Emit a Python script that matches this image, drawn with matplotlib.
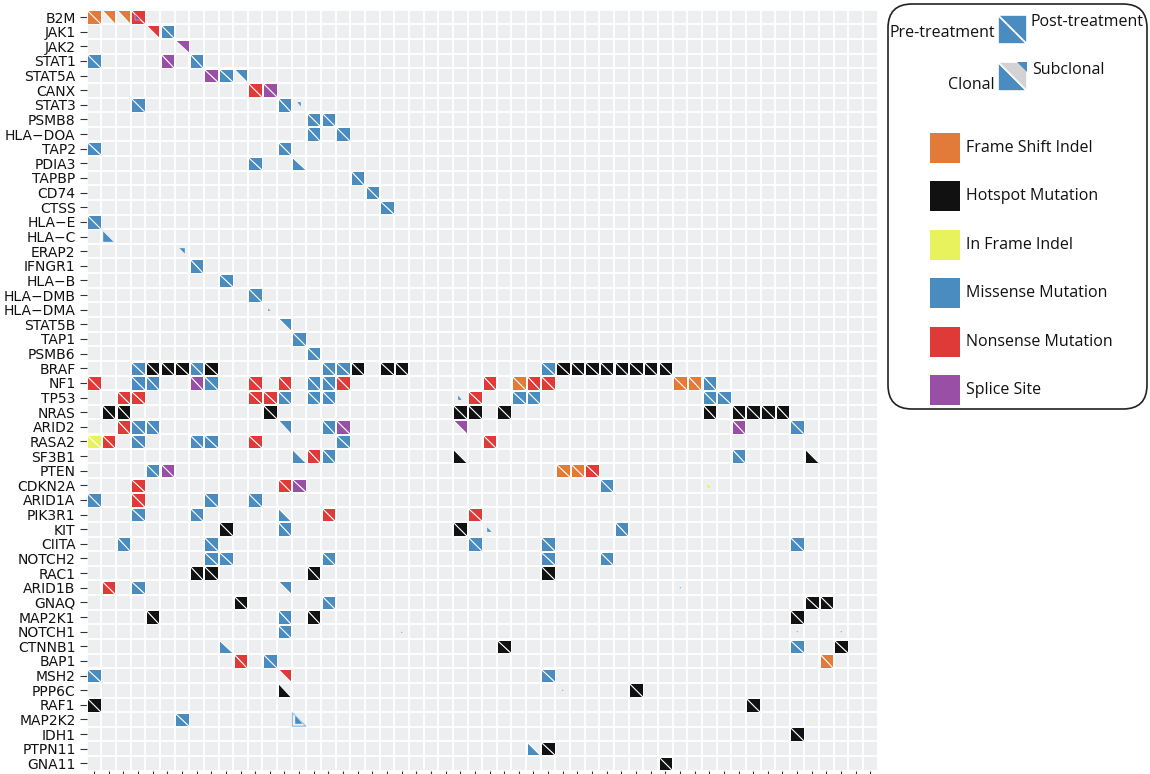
import numpy as np
import matplotlib.pyplot as plt
from matplotlib.patches import Polygon, Rectangle, FancyBboxPatch

genes = ["B2M", "JAK1", "JAK2", "STAT1", "STAT5A", "CANX", "STAT3", "PSMB8",
         "HLA\u2212DOA", "TAP2", "PDIA3", "TAPBP", "CD74", "CTSS", "HLA\u2212E",
         "HLA\u2212C", "ERAP2", "IFNGR1", "HLA\u2212B", "HLA\u2212DMB", "HLA\u2212DMA",
         "STAT5B", "TAP1", "PSMB6", "BRAF", "NF1", "TP53", "NRAS", "ARID2", "RASA2",
         "SF3B1", "PTEN", "CDKN2A", "ARID1A", "PIK3R1", "KIT", "CIITA", "NOTCH2",
         "RAC1", "ARID1B", "GNAQ", "MAP2K1", "NOTCH1", "CTNNB1", "BAP1", "MSH2",
         "PPP6C", "RAF1", "MAP2K2", "IDH1", "PTPN11", "GNA11"]
n_samples = 54

# (gene, sample, pre-treatment fraction, post-treatment fraction); 1 = clonal, <1 = subclonal, 0 = absent
frame_shift = [("B2M", 0, 1, 1), ("B2M", 1, 0, 1), ("B2M", 2, 0, 1), ("NF1", 29, 1, 1),
               ("NF1", 40, 1, 1), ("NF1", 41, 1, 1), ("PTEN", 32, 1, 1), ("PTEN", 33, 1, 1),
               ("BAP1", 50, 1, 1)]

hotspot = [("BRAF", 4, 1, 1), ("BRAF", 5, 1, 1), ("BRAF", 6, 1, 1), ("BRAF", 8, 1, 1),
           ("BRAF", 18, 1, 1), ("BRAF", 20, 1, 1), ("BRAF", 21, 1, 1), ("BRAF", 32, 1, 1),
           ("BRAF", 33, 1, 1), ("BRAF", 34, 1, 1), ("BRAF", 35, 1, 1), ("BRAF", 36, 1, 1),
           ("BRAF", 37, 1, 1), ("BRAF", 38, 1, 1), ("BRAF", 39, 1, 1),
           ("NRAS", 1, 1, 1), ("NRAS", 2, 1, 1), ("NRAS", 12, 1, 1), ("NRAS", 25, 1, 1),
           ("NRAS", 26, 1, 1), ("NRAS", 28, 1, 1), ("NRAS", 42, 1, 1), ("NRAS", 44, 1, 1),
           ("NRAS", 45, 1, 1), ("NRAS", 46, 1, 1), ("NRAS", 47, 1, 1),
           ("SF3B1", 25, 1, 0), ("SF3B1", 49, 1, 0), ("KIT", 9, 1, 1), ("KIT", 25, 1, 1),
           ("RAC1", 7, 1, 1), ("RAC1", 8, 1, 1), ("RAC1", 15, 1, 1), ("RAC1", 31, 1, 1),
           ("GNAQ", 10, 1, 1), ("GNAQ", 49, 1, 1), ("GNAQ", 50, 1, 1),
           ("MAP2K1", 4, 1, 1), ("MAP2K1", 15, 1, 1), ("MAP2K1", 48, 1, 1),
           ("CTNNB1", 28, 1, 1), ("CTNNB1", 51, 1, 1), ("PPP6C", 13, 1, 0), ("PPP6C", 37, 1, 1),
           ("RAF1", 0, 1, 1), ("RAF1", 45, 1, 1), ("IDH1", 48, 1, 1), ("PTPN11", 31, 1, 1),
           ("GNA11", 39, 1, 1)]

in_frame = [("RASA2", 0, 1, 1), ("CDKN2A", 42, 0.4, 0), ("MAP2K2", 49, 0.2, 0)]

missense = [("JAK1", 5, 1, 1), ("STAT1", 0, 1, 1), ("STAT1", 7, 1, 1), ("STAT5A", 9, 1, 1),
            ("STAT5A", 10, 0, 1), ("STAT3", 3, 1, 1), ("STAT3", 13, 1, 1), ("STAT3", 14, 0, 0.35),
            ("PSMB8", 15, 1, 1), ("PSMB8", 16, 1, 1), ("HLA\u2212DOA", 15, 1, 1),
            ("HLA\u2212DOA", 17, 1, 1), ("TAP2", 0, 1, 1), ("TAP2", 13, 1, 1),
            ("PDIA3", 11, 1, 1), ("PDIA3", 14, 1, 0), ("TAPBP", 18, 1, 1), ("CD74", 19, 1, 1),
            ("CTSS", 20, 1, 1), ("HLA\u2212E", 0, 1, 1), ("HLA\u2212C", 1, 0.8, 0),
            ("ERAP2", 6, 0, 0.45), ("IFNGR1", 7, 1, 1), ("HLA\u2212B", 9, 1, 1),
            ("HLA\u2212DMB", 11, 1, 1), ("HLA\u2212DMA", 12, 0.25, 0), ("STAT5B", 13, 0, 1),
            ("TAP1", 14, 1, 1), ("PSMB6", 15, 1, 1),
            ("BRAF", 3, 1, 1), ("BRAF", 7, 1, 1), ("BRAF", 16, 1, 1), ("BRAF", 17, 1, 1),
            ("BRAF", 31, 1, 1), ("NF1", 3, 1, 1), ("NF1", 4, 1, 1), ("NF1", 8, 1, 1),
            ("NF1", 15, 1, 1), ("NF1", 16, 1, 1), ("NF1", 42, 1, 1),
            ("TP53", 13, 1, 1), ("TP53", 15, 1, 1), ("TP53", 16, 1, 1), ("TP53", 25, 0.3, 0),
            ("TP53", 29, 1, 1), ("TP53", 30, 1, 1), ("TP53", 42, 1, 1), ("TP53", 43, 1, 1),
            ("ARID2", 3, 1, 1), ("ARID2", 4, 1, 1), ("ARID2", 13, 0, 1), ("ARID2", 16, 1, 1),
            ("ARID2", 48, 1, 1), ("RASA2", 3, 1, 1), ("RASA2", 7, 1, 1), ("RASA2", 8, 1, 1),
            ("RASA2", 17, 1, 1), ("SF3B1", 14, 1, 0), ("SF3B1", 16, 1, 1), ("SF3B1", 44, 1, 1),
            ("PTEN", 4, 1, 1), ("CDKN2A", 35, 1, 1), ("ARID1A", 0, 1, 1), ("ARID1A", 8, 1, 1),
            ("ARID1A", 11, 1, 1), ("PIK3R1", 3, 1, 1), ("PIK3R1", 7, 1, 1), ("PIK3R1", 13, 1, 0),
            ("KIT", 13, 1, 1), ("KIT", 27, 0.4, 0), ("KIT", 36, 1, 1),
            ("CIITA", 2, 1, 1), ("CIITA", 8, 1, 1), ("CIITA", 26, 1, 1), ("CIITA", 31, 1, 1),
            ("CIITA", 48, 1, 1), ("NOTCH2", 8, 1, 1), ("NOTCH2", 9, 1, 1), ("NOTCH2", 16, 1, 1),
            ("NOTCH2", 31, 1, 1), ("NOTCH2", 35, 1, 1), ("ARID1B", 3, 1, 1), ("ARID1B", 13, 0, 1),
            ("ARID1B", 40, 0, 0.15), ("GNAQ", 16, 1, 1), ("MAP2K1", 13, 1, 1),
            ("NOTCH1", 13, 1, 1), ("NOTCH1", 21, 0.15, 0), ("NOTCH1", 48, 0, 0.15),
            ("NOTCH1", 51, 0, 0.15), ("CTNNB1", 9, 1, 0), ("CTNNB1", 48, 1, 1),
            ("BAP1", 12, 1, 1), ("MSH2", 0, 1, 1), ("MSH2", 31, 1, 1), ("PPP6C", 32, 0.15, 0),
            ("MAP2K2", 6, 1, 1), ("MAP2K2", 14, 0.6, 0), ("PTPN11", 30, 1, 0)]

nonsense = [("B2M", 3, 1, 1), ("JAK1", 4, 0, 1), ("CANX", 11, 1, 1),
            ("NF1", 0, 1, 1), ("NF1", 11, 1, 1), ("NF1", 13, 1, 1), ("NF1", 17, 1, 1),
            ("NF1", 27, 1, 1), ("NF1", 30, 1, 1), ("NF1", 31, 1, 1),
            ("TP53", 2, 1, 1), ("TP53", 3, 1, 1), ("TP53", 11, 1, 1), ("TP53", 12, 1, 1),
            ("TP53", 26, 1, 1), ("ARID2", 2, 1, 1), ("RASA2", 1, 1, 1), ("RASA2", 11, 1, 1),
            ("RASA2", 27, 1, 1), ("SF3B1", 15, 1, 1), ("PTEN", 34, 1, 1), ("CDKN2A", 3, 1, 1),
            ("CDKN2A", 13, 1, 1), ("ARID1A", 3, 1, 1), ("PIK3R1", 16, 1, 1),
            ("PIK3R1", 26, 1, 1), ("ARID1B", 1, 1, 1), ("BAP1", 10, 1, 1), ("MSH2", 13, 0, 1)]

splice = [("B2M", 3, 0.45, 0), ("JAK2", 6, 0, 1), ("STAT1", 5, 1, 1), ("STAT5A", 8, 1, 1),
          ("CANX", 12, 1, 1), ("NF1", 7, 1, 1), ("ARID2", 17, 1, 1), ("ARID2", 25, 0, 1),
          ("ARID2", 44, 1, 1), ("PTEN", 5, 1, 1), ("CDKN2A", 14, 1, 1)]

mut_classes = ["Frame Shift Indel", "Hotspot Mutation", "In Frame Indel",
               "Missense Mutation", "Nonsense Mutation", "Splice Site"]
class_colors = ["#E27B3A", "#111111", "#E8F25C", "#4A8CC0", "#E03A38", "#994FA6"]
class_data = [frame_shift, hotspot, in_frame, missense, nonsense, splice]

row_of = {g: i for i, g in enumerate(genes)}
H = 0.46


def triangle(x, y, half, size):
    # y axis is inverted, so y - s is the top edge of the cell
    s = H * size
    if half == "pre":
        pts = [(x - s, y - s), (x - s, y + s), (x + s, y + s)]
    else:
        pts = [(x - s, y - s), (x + s, y - s), (x + s, y + s)]
    return pts


fig = plt.figure(figsize=(11.5, 7.74), dpi=100)
ax = fig.add_axes([86.7 / 1150, 1 - 770.7 / 774, 791 / 1150, 761 / 774])
ax.set_facecolor("#EDEEF0")
ax.set_xlim(-0.5, n_samples - 0.5)
ax.set_ylim(len(genes) - 0.5, -0.5)
for i in range(n_samples + 1):
    ax.axvline(i - 0.5, color="white", lw=1.3, zorder=1)
for j in range(len(genes) + 1):
    ax.axhline(j - 0.5, color="white", lw=1.3, zorder=1)

for data, col in zip(class_data, class_colors):
    for gene, sample, pre, post in data:
        y = row_of[gene]
        for half, frac in (("pre", pre), ("post", post)):
            if frac <= 0:
                continue
            lw = 0.7 if frac >= 1 else 0.25
            ax.add_patch(Polygon(triangle(sample, y, half, frac), closed=True,
                                 fc=col, ec="white", lw=lw, zorder=3))

# faint outline of the clonal footprint behind a partly subclonal call
ax.add_patch(Polygon(triangle(14, row_of["MAP2K2"], "pre", 1.0), closed=True,
                     fc="none", ec="#9DC0DE", lw=0.9, zorder=2.5))

for s in ax.spines.values():
    s.set_visible(False)
ax.set_xticks(range(n_samples))
ax.set_xticklabels([])
ax.set_yticks(range(len(genes)))
ax.set_yticklabels(genes, fontsize=10, family="DejaVu Sans", color="#111111")
ax.tick_params(axis="x", length=4, width=0.8, color="#333333", pad=1)
ax.tick_params(axis="y", length=5, width=0.8, color="#333333", pad=3)

# legend drawn in figure pixel coordinates
lax = fig.add_axes([0, 0, 1, 1], zorder=5)
lax.set_xlim(0, 1150)
lax.set_ylim(774, 0)
lax.axis("off")
lax.add_patch(FancyBboxPatch((888, 4), 259, 405, boxstyle="round,pad=0,rounding_size=24",
                             fc="white", ec="#222222", lw=1.2))
blue = class_colors[3]
lax.add_patch(Polygon([(998, 15), (998, 44), (1027, 44)], fc=blue, ec="white", lw=1.2))
lax.add_patch(Polygon([(998, 15), (1027, 15), (1027, 44)], fc=blue, ec="white", lw=1.2))
lax.add_patch(Polygon([(998, 62), (998, 91), (1027, 91)], fc=blue, ec="white", lw=1.2))
lax.add_patch(Polygon([(998, 62), (1027, 62), (1027, 91)], fc="#D3D3D5", ec="white", lw=1.2))
lax.add_patch(Polygon([(1017, 62), (1027, 62), (1027, 72)], fc=blue, ec="none"))

lfont = dict(family="Open Sans", fontsize=11.5, color="#111111")
lax.text(995, 33, "Pre-treatment", ha="right", va="center", **lfont)
lax.text(1031, 22, "Post-treatment", ha="left", va="center", **lfont)
lax.text(995, 85, "Clonal", ha="right", va="center", **lfont)
lax.text(1032, 70, "Subclonal", ha="left", va="center", **lfont)

for k, (name, col) in enumerate(zip(mut_classes, class_colors)):
    yc = 148 + 48.4 * k
    lax.add_patch(Rectangle((930, yc - 15), 30, 30, fc=col, ec="none"))
    lax.text(966, yc, name, ha="left", va="center", **lfont)

fig.savefig("out.png", dpi=100)
